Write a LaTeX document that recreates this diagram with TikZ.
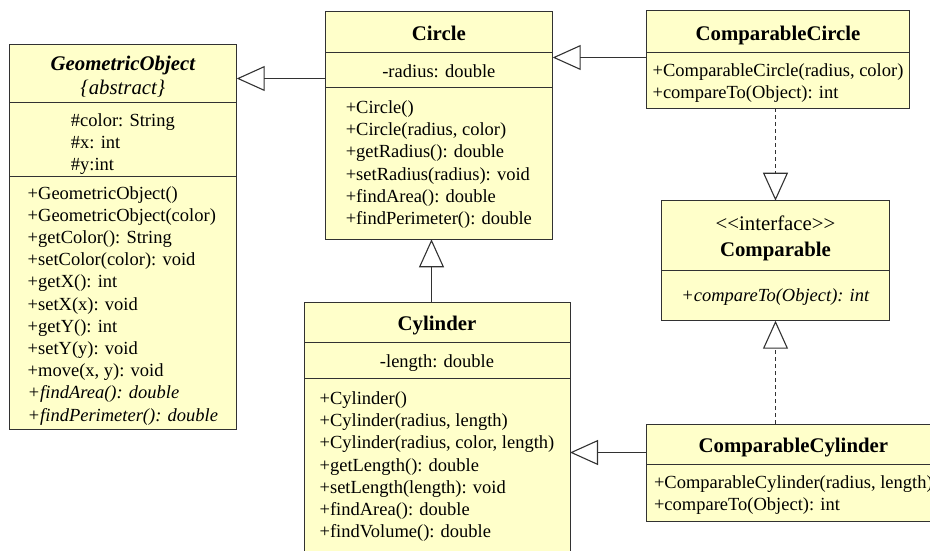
\documentclass[tikz,border=0pt]{standalone}
\usepackage{fontspec}
\setmainfont{Liberation Serif}
\usepackage{tikz}
\usetikzlibrary{calc, arrows.meta, positioning}

\definecolor{umlfill}{RGB}{255,255,202}
\definecolor{umlline}{RGB}{50,50,50}

\begin{document}
\begin{tikzpicture}[x=1pt, y=-1pt,
    cls/.style={draw=umlline, fill=umlfill, line width=1pt, inner sep=0pt, outer sep=0pt, anchor=north west},
    sepline/.style={draw=umlline, line width=1pt},
    ttl/.style={font=\fontsize{20.8}{25}\selectfont\bfseries, anchor=base, inner sep=0pt},
    mbr/.style={font=\fontsize{18.5}{22.2}\selectfont, align=left, anchor=base, inner sep=0pt},
    inherit/.style={draw=umlline, line width=1.1pt, -{Triangle[open, length=28pt, width=25pt]}},
    realize/.style={inherit, dash pattern=on 4pt off 3pt}]
    \useasboundingbox (0,0) rectangle (930,550);
    \clip (0,0) rectangle (930,550);

    % GeometricObject (member lists are placed by their last baseline)
    \node[cls, minimum width=227.7pt, minimum height=385pt] (geo) at (9,44.7) {};
    \draw[sepline] (geo.west |- 0,102.7) -- (geo.east |- 0,102.7);
    \draw[sepline] (geo.west |- 0,176) -- (geo.east |- 0,176);
    \node[ttl, font=\fontsize{20.8}{25}\selectfont\bfseries\itshape] (geoT) at (geo.north |- 0,70.5) {GeometricObject};
    \node[ttl, font=\fontsize{20.8}{25}\selectfont\itshape] (geoS) at (geo.north |- 0,94.5) {\{abstract\}};
    \node[mbr] (geoA) at (geo.north |- 0,170.9) {\#color: String\\\#x: int\\\#y:int};
    \node[mbr] (geoM) at (geo.north |- 0,421) {+GeometricObject()\\+GeometricObject(color)\\+getColor(): String\\
        +setColor(color): void\\+getX(): int\\+setX(x): void\\+getY(): int\\+setY(y): void\\
        +move(x, y): void\\\textit{+findArea(): double}\\\textit{+findPerimeter(): double}};

    % Circle
    \node[cls, minimum width=227.7pt, minimum height=228.3pt] (circle) at (325,11) {};
    \draw[sepline] (circle.west |- 0,52.3) -- (circle.east |- 0,52.3);
    \draw[sepline] (circle.west |- 0,87.3) -- (circle.east |- 0,87.3);
    \node[ttl] (circleT) at (circle.north |- 0,40.5) {Circle};
    \node[mbr] (circleA) at (circle.north |- 0,77.5) {-radius: double};
    \node[mbr] (circleM) at (circle.north |- 0,224.5) {+Circle()\\+Circle(radius, color)\\+getRadius(): double\\
        +setRadius(radius): void\\+findArea(): double\\+findPerimeter(): double};

    % ComparableCircle
    \node[cls, minimum width=262.6pt, minimum height=97.6pt] (ccircle) at (646.7,10.7) {};
    \draw[sepline] (ccircle.west |- 0,52.3) -- (ccircle.east |- 0,52.3);
    \node[ttl] (ccircleT) at (ccircle.north |- 0,40.5) {ComparableCircle};
    \node[mbr] (ccircleM) at (ccircle.north |- 0,98.2) {+ComparableCircle(radius, color)\\+compareTo(Object): int};

    % Comparable
    \node[cls, minimum width=227.6pt, minimum height=120pt] (comparable) at (661.7,200.7) {};
    \draw[sepline] (comparable.west |- 0,270) -- (comparable.east |- 0,270);
    \node[ttl, font=\fontsize{20.8}{25}\selectfont] (comparableS) at (comparable.north |- 0,230.7) {<{}<interface>{}>};
    \node[ttl] (comparableT) at (comparable.north |- 0,256) {Comparable};
    \node[mbr] (comparableM) at (comparable.north |- 0,301) {\textit{+compareTo(Object): int}};

    % Cylinder
    \node[cls, minimum width=266pt, minimum height=270pt] (cylinder) at (304,302.3) {};
    \draw[sepline] (cylinder.west |- 0,342.7) -- (cylinder.east |- 0,342.7);
    \draw[sepline] (cylinder.west |- 0,378.3) -- (cylinder.east |- 0,378.3);
    \node[ttl] (cylinderT) at (cylinder.north |- 0,330.7) {Cylinder};
    \node[mbr] (cylinderA) at (cylinder.north |- 0,367.9) {-length: double};
    \node[mbr] (cylinderM) at (cylinder.north |- 0,537.7) {+Cylinder()\\+Cylinder(radius, length)\\
        +Cylinder(radius, color, length)\\+getLength(): double\\+setLength(length): void\\
        +findArea(): double\\+findVolume(): double};

    % ComparableCylinder
    \node[cls, minimum width=293.3pt, minimum height=97pt] (ccyl) at (646.7,424) {};
    \draw[sepline] (ccyl.west |- 0,464.3) -- (ccyl.east |- 0,464.3);
    \node[ttl] (ccylT) at (ccyl.north |- 0,452.3) {ComparableCylinder};
    \node[mbr] (ccylM) at (ccyl.north |- 0,510.2) {+ComparableCylinder(radius, length)\\+compareTo(Object): int};

    % Generalization and realization
    \draw[inherit] (circle.west |- 0,78.5) -- (geo.east |- 0,78.5);
    \draw[inherit] (ccircle.west |- 0,57.5) -- (circle.east |- 0,57.5);
    \draw[inherit] (cylinder.north -| 431.5,0) -- (circle.south -| 431.5,0);
    \draw[inherit] (ccyl.west |- 0,452.5) -- (cylinder.east |- 0,452.5);
    \draw[realize] (ccircle.south -| comparable.north) -- (comparable.north);
    \draw[realize] (ccyl.north -| comparable.south) -- (comparable.south);
\end{tikzpicture}
\end{document}
